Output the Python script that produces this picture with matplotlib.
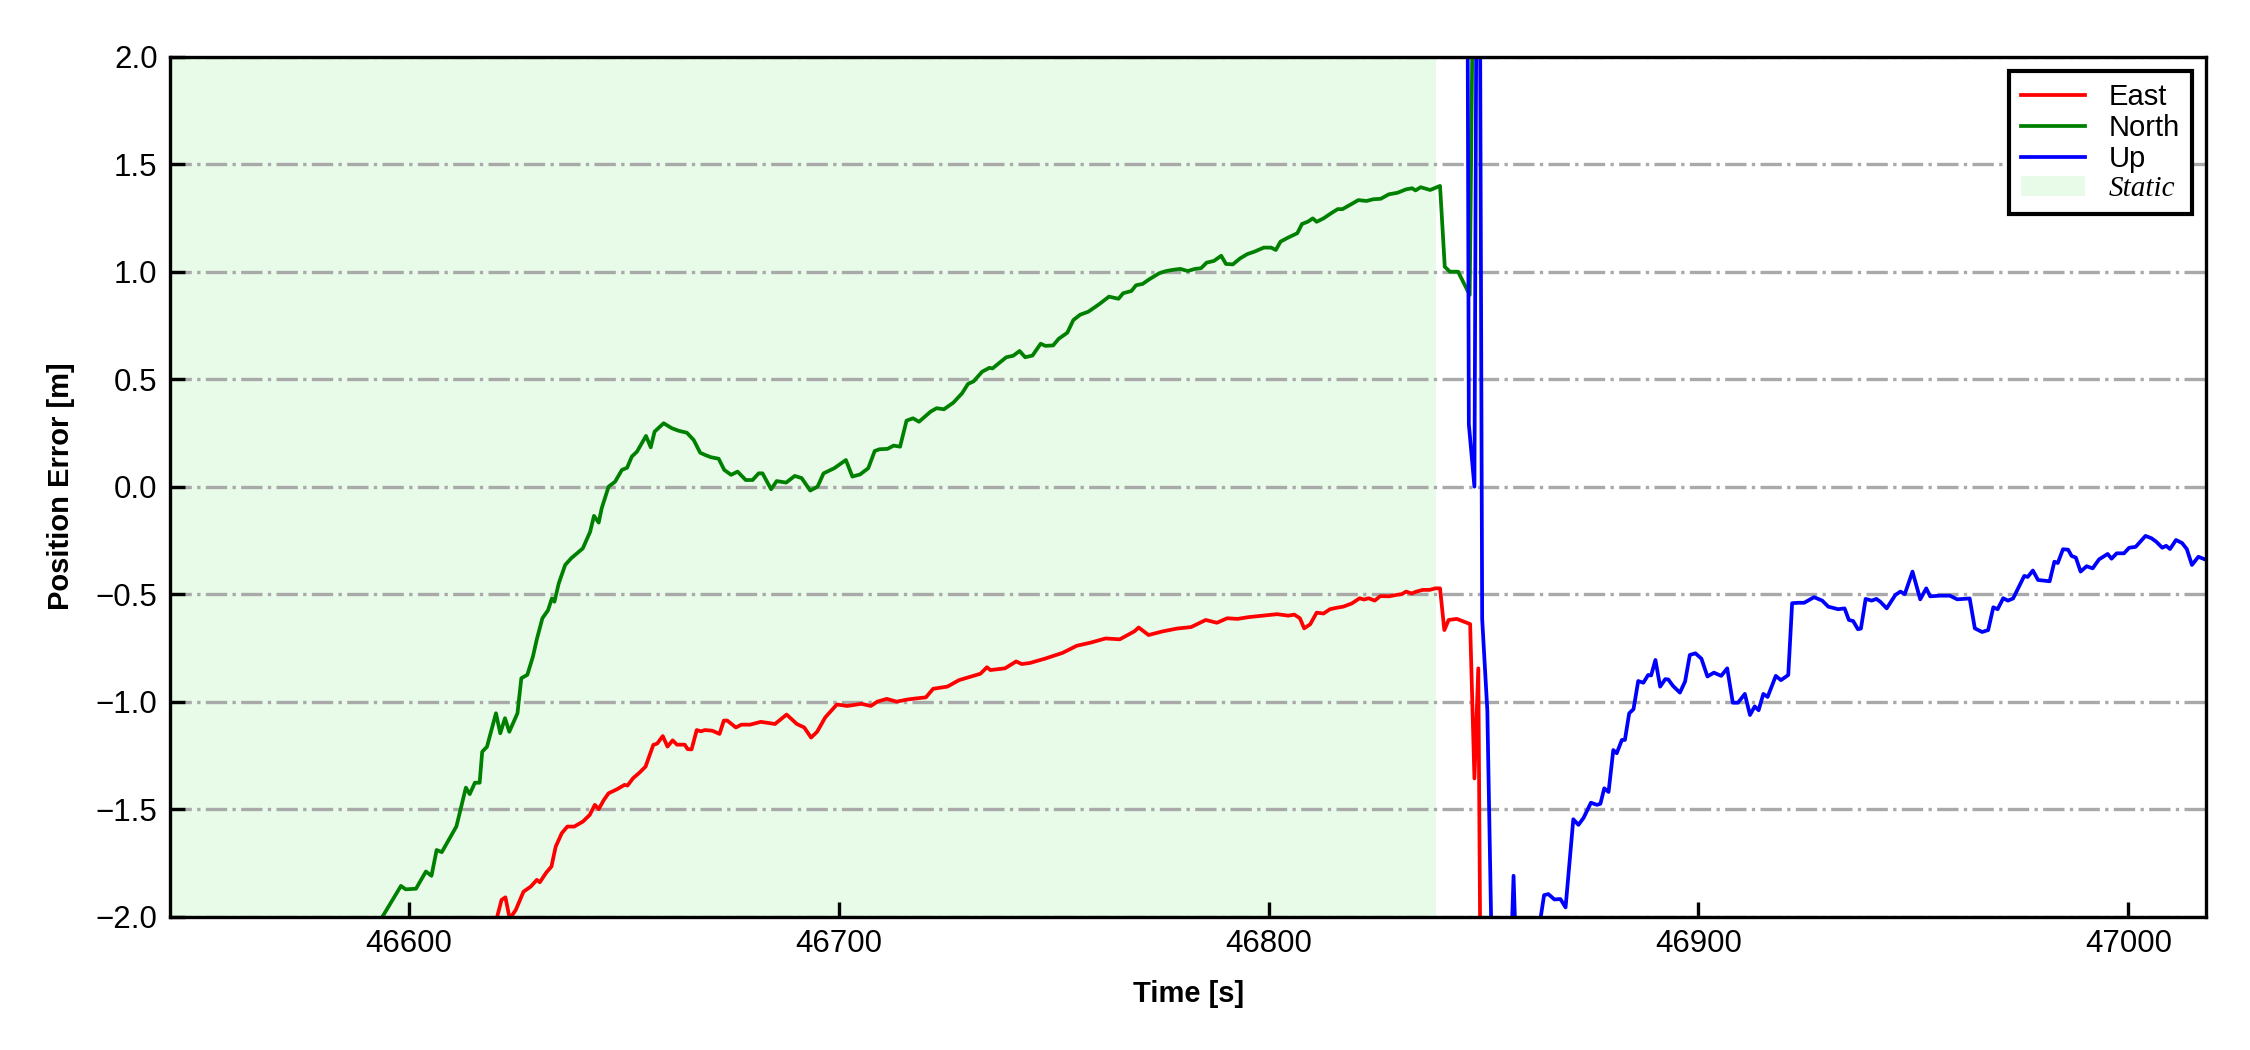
import matplotlib
matplotlib.use("Agg")
import matplotlib.pyplot as plt
from matplotlib.patches import Patch
from matplotlib.lines import Line2D

plt.rcParams['font.family'] = ['Liberation Sans', 'DejaVu Sans']

# ---------------- data ----------------
north_t = [46593.0, 46598.2, 46599.3, 46601.7, 46604.0, 46605.3, 46606.5, 46607.7, 46611.1, 46613.3,
           46614.2, 46615.4, 46616.5, 46617.1, 46618.2, 46620.3, 46621.3, 46622.4, 46623.4, 46625.3,
           46626.2, 46627.6, 46628.9, 46629.8, 46631.1, 46632.4, 46633.3, 46633.9, 46634.9, 46636.4,
           46637.8, 46640.5, 46642.2, 46643.1, 46644.2, 46644.9, 46646.5, 46648.0, 46649.6, 46650.8,
           46651.9, 46653.1, 46655.2, 46656.3, 46657.2, 46659.3, 46661.2, 46662.8, 46664.7, 46666.3,
           46667.8, 46669.0, 46670.3, 46672.1, 46673.4, 46675.0, 46676.5, 46678.4, 46680.0, 46681.4,
           46682.3, 46684.3, 46685.6, 46687.8, 46689.8, 46691.4, 46693.4, 46695.1, 46696.5, 46699.0,
           46701.7, 46703.2, 46705.0, 46706.9, 46708.4, 46709.5, 46711.4, 46712.8, 46714.3, 46715.8,
           46717.3, 46718.7, 46721.4, 46722.8, 46724.5, 46726.7, 46728.7, 46730.1, 46731.4, 46733.4,
           46735.1, 46735.8, 46739.0, 46740.6, 46742.1, 46743.4, 46745.1, 46747.0, 46748.1, 46749.9,
           46751.2, 46753.2, 46754.6, 46756.2, 46758.1, 46760.7, 46762.9, 46765.1, 46766.2, 46768.1,
           46769.2, 46770.7, 46772.3, 46774.6, 46776.2, 46777.9, 46779.5, 46781.2, 46782.9, 46784.3,
           46785.6, 46787.3, 46789.0, 46790.1, 46791.7, 46793.4, 46795.1, 46796.7, 46798.9, 46800.6,
           46801.7, 46802.8, 46804.5, 46806.7, 46807.8, 46809.2, 46810.3, 46811.2, 46812.8, 46814.5,
           46816.1, 46817.2, 46818.9, 46820.9, 46822.8, 46824.4, 46826.1, 46828.0, 46830.0, 46832.0,
           46833.4, 46834.2, 46835.4, 46837.6, 46839.9, 46841.0, 46842.2, 46844.1, 46846.8, 46847.8]
north_v = [-2.03, -1.857, -1.873, -1.87, -1.79, -1.81, -1.69, -1.70, -1.58, -1.40,
           -1.43, -1.377, -1.377, -1.233, -1.21, -1.054, -1.147, -1.077, -1.14, -1.054,
           -0.891, -0.875, -0.79, -0.71, -0.612, -0.575, -0.52, -0.535, -0.45, -0.364,
           -0.333, -0.287, -0.21, -0.136, -0.167, -0.10, 0.0, 0.023, 0.078, 0.088,
           0.14, 0.163, 0.236, 0.183, 0.256, 0.295, 0.272, 0.26, 0.251, 0.217,
           0.158, 0.147, 0.137, 0.13, 0.078, 0.055, 0.07, 0.031, 0.031, 0.062,
           0.062, -0.012, 0.026, 0.019, 0.05, 0.04, -0.018, 0.0, 0.062, 0.086,
           0.124, 0.047, 0.057, 0.086, 0.166, 0.174, 0.176, 0.191, 0.186, 0.307,
           0.318, 0.302, 0.349, 0.365, 0.36, 0.391, 0.434, 0.478, 0.49, 0.535,
           0.553, 0.55, 0.602, 0.609, 0.631, 0.602, 0.61, 0.665, 0.655, 0.657,
           0.688, 0.716, 0.775, 0.80, 0.814, 0.85, 0.884, 0.874, 0.90, 0.91,
           0.937, 0.943, 0.965, 0.993, 1.003, 1.009, 1.013, 1.003, 1.013, 1.016,
           1.042, 1.05, 1.074, 1.036, 1.034, 1.062, 1.082, 1.093, 1.112, 1.112,
           1.101, 1.14, 1.158, 1.179, 1.222, 1.233, 1.248, 1.232, 1.248, 1.271,
           1.291, 1.291, 1.31, 1.333, 1.329, 1.337, 1.339, 1.36, 1.367, 1.383,
           1.388, 1.378, 1.393, 1.38, 1.399, 1.023, 1.0, 1.0, 0.892, 2.8]

east_t = [46619.8, 46621.6, 46622.5, 46623.5, 46624.9, 46626.7, 46628.4, 46629.8, 46630.5, 46632.0,
          46633.2, 46634.2, 46635.6, 46636.9, 46638.5, 46640.5, 46642.1, 46643.3, 46644.2, 46645.4,
          46646.5, 46648.5, 46650.2, 46650.9, 46652.2, 46653.7, 46655.1, 46656.9, 46657.8, 46659.1,
          46660.2, 46661.4, 46662.4, 46664.2, 46664.9, 46665.8, 46667.0, 46668.0, 46668.9, 46670.6,
          46672.3, 46673.3, 46674.1, 46676.1, 46677.4, 46679.4, 46681.9, 46684.0, 46685.2, 46687.9,
          46690.3, 46692.0, 46693.6, 46695.0, 46696.9, 46699.6, 46702.0, 46705.3, 46707.5, 46709.0,
          46711.2, 46713.5, 46716.0, 46718.0, 46720.3, 46722.0, 46725.3, 46728.0, 46731.3, 46733.0,
          46734.5, 46735.3, 46738.7, 46741.3, 46742.6, 46744.5, 46748.0, 46752.1, 46755.4, 46758.7,
          46762.1, 46765.4, 46768.8, 46769.8, 46772.1, 46775.4, 46778.7, 46782.0, 46785.4, 46788.0,
          46790.4, 46792.8, 46795.3, 46798.6, 46802.0, 46804.6, 46806.0, 46807.3, 46808.3, 46809.7,
          46811.2, 46812.8, 46814.3, 46815.9, 46817.4, 46819.4, 46821.2, 46822.2, 46823.3, 46824.7,
          46826.0, 46828.0, 46829.9, 46831.0, 46832.0, 46833.3, 46834.4, 46835.9, 46837.5, 46838.8,
          46839.9, 46840.9, 46841.9, 46843.8, 46846.9, 46847.9, 46848.8, 46849.8]
east_v = [-2.06, -1.922, -1.91, -2.01, -1.969, -1.884, -1.86, -1.829, -1.84, -1.795,
          -1.767, -1.674, -1.612, -1.581, -1.581, -1.558, -1.527, -1.48, -1.5, -1.457,
          -1.426, -1.407, -1.387, -1.39, -1.356, -1.33, -1.302, -1.201, -1.195, -1.16,
          -1.209, -1.18, -1.20, -1.20, -1.221, -1.222, -1.132, -1.138, -1.132, -1.135,
          -1.15, -1.088, -1.088, -1.12, -1.107, -1.107, -1.094, -1.10, -1.104, -1.06,
          -1.104, -1.12, -1.167, -1.14, -1.073, -1.013, -1.02, -1.01, -1.02, -1.00,
          -0.987, -1.00, -0.99, -0.985, -0.98, -0.94, -0.93, -0.90, -0.88, -0.87,
          -0.84, -0.853, -0.845, -0.813, -0.825, -0.82, -0.80, -0.773, -0.74, -0.725,
          -0.706, -0.71, -0.673, -0.655, -0.69, -0.673, -0.66, -0.653, -0.62, -0.633,
          -0.612, -0.615, -0.607, -0.60, -0.593, -0.60, -0.595, -0.612, -0.659, -0.64,
          -0.586, -0.59, -0.57, -0.563, -0.558, -0.543, -0.519, -0.525, -0.519, -0.53,
          -0.509, -0.51, -0.503, -0.50, -0.488, -0.497, -0.488, -0.48, -0.48, -0.473,
          -0.473, -0.667, -0.62, -0.615, -0.639, -1.357, -0.845, -3.7]

up_t = [46845.9, 46846.6, 46847.9, 46848.8, 46849.7, 46850.9, 46852.5, 46854.5, 46856.0, 46857.0,
        46858.0, 46860.0, 46862.2, 46864.1, 46865.1, 46866.5, 46867.9, 46869.1, 46870.9, 46872.1,
        46873.3, 46875.0, 46876.4, 46877.2, 46878.1, 46879.1, 46880.2, 46881.0, 46882.2, 46882.9,
        46883.9, 46884.9, 46886.0, 46887.2, 46888.3, 46889.0, 46890.0, 46891.1, 46892.3, 46893.0,
        46894.1, 46895.7, 46896.9, 46898.0, 46899.3, 46900.7, 46902.1, 46903.6, 46905.3, 46906.7,
        46908.0, 46909.2, 46910.8, 46912.0, 46913.1, 46914.0, 46915.1, 46916.1, 46918.0, 46919.2,
        46920.9, 46921.8, 46923.2, 46924.6, 46926.9, 46928.8, 46930.2, 46932.5, 46934.0, 46935.0,
        46936.0, 46937.1, 46937.8, 46938.9, 46940.3, 46941.4, 46942.3, 46943.8, 46945.8, 46947.0,
        46948.0, 46949.8, 46951.6, 46953.0, 46953.9, 46956.2, 46958.5, 46960.2, 46963.1, 46964.3,
        46966.0, 46967.4, 46968.6, 46969.6, 46970.9, 46972.0, 46973.2, 46975.8, 46976.6, 46977.8,
        46979.0, 46981.7, 46982.8, 46983.6, 46984.8, 46986.0, 46986.8, 46987.8, 46988.9, 46990.3,
        46991.7, 46993.2, 46995.2, 46996.1, 46997.3, 46999.0, 47000.2, 47001.7, 47004.0, 47005.4,
        47006.5, 47007.9, 47008.8, 47009.7, 47011.1, 47012.5, 47013.6, 47014.8, 47016.3, 47017.8,
        47019.0]
up_v = [5.0, 0.29, 0.0, 4.5, -0.615, -1.04, -2.8, -2.7, -2.44, -1.81,
        -2.44, -2.6, -2.15, -1.9, -1.895, -1.92, -1.918, -1.957, -1.547, -1.573,
        -1.54, -1.47, -1.48, -1.475, -1.403, -1.42, -1.225, -1.24, -1.178, -1.178,
        -1.054, -1.035, -0.904, -0.912, -0.876, -0.878, -0.806, -0.93, -0.895, -0.897,
        -0.927, -0.958, -0.906, -0.783, -0.775, -0.80, -0.883, -0.865, -0.88, -0.845,
        -1.005, -1.005, -0.964, -1.062, -1.022, -1.04, -0.964, -0.978, -0.88, -0.90,
        -0.876, -0.542, -0.54, -0.54, -0.514, -0.53, -0.558, -0.57, -0.566, -0.62,
        -0.625, -0.663, -0.66, -0.522, -0.53, -0.522, -0.535, -0.566, -0.504, -0.488,
        -0.50, -0.395, -0.524, -0.473, -0.51, -0.507, -0.507, -0.524, -0.52, -0.659,
        -0.676, -0.667, -0.561, -0.57, -0.519, -0.53, -0.52, -0.415, -0.42, -0.39,
        -0.434, -0.44, -0.349, -0.355, -0.291, -0.293, -0.322, -0.33, -0.395, -0.37,
        -0.38, -0.338, -0.313, -0.335, -0.31, -0.31, -0.284, -0.28, -0.229, -0.24,
        -0.256, -0.284, -0.275, -0.29, -0.248, -0.262, -0.29, -0.364, -0.326, -0.338,
        -0.34]

static_start = 46544.5
static_end = 46839.0
x_range = (46544.5, 47018.1)
y_range = (-2.0, 2.0)
x_ticks = [46600, 46700, 46800, 46900, 47000]
y_ticks = [-2.0, -1.5, -1.0, -0.5, 0.0, 0.5, 1.0, 1.5, 2.0]

# ---------------- figure ----------------
fig = plt.figure(figsize=(7.5, 3.5), dpi=300)
ax = fig.add_axes([0.0756, 0.1270, 0.9049, 0.8190])

ax.axvspan(static_start, static_end, color='lightgreen', alpha=0.2, lw=0)
ax.plot(east_t, east_v, color='red', lw=0.9)
ax.plot(north_t, north_v, color='green', lw=0.9)
ax.plot(up_t, up_v, color='blue', lw=0.9)

ax.set_xlim(*x_range)
ax.set_ylim(*y_range)
ax.set_xticks(x_ticks)
ax.set_yticks(y_ticks)
ax.yaxis.grid(True, linestyle='-.', color='darkgray', linewidth=0.8)

ax.tick_params(direction='in', length=3.6, width=0.8, labelsize=7.5,
               top=False, right=False, pad=3)
for s in ax.spines.values():
    s.set_linewidth(0.8)

ax.set_xlabel('Time [s]', fontsize=7, fontweight='bold', labelpad=5)
ax.set_ylabel('Position Error [m]', fontsize=7, fontweight='bold', labelpad=5)

handles = [Line2D([], [], color='red', lw=0.9),
           Line2D([], [], color='green', lw=0.9),
           Line2D([], [], color='blue', lw=0.9),
           Patch(facecolor='lightgreen', alpha=0.2, lw=0)]
labels = ['East', 'North', 'Up', 'Static']
leg = ax.legend(handles, labels, loc='upper right', fontsize=7, fancybox=False,
                edgecolor='black', framealpha=1, labelspacing=0.1, handlelength=2.2,
                handletextpad=0.8, borderpad=0.4, borderaxespad=0.5)
leg.get_frame().set_linewidth(1.0)
st = leg.get_texts()[3]
st.set_fontfamily(['Liberation Serif', 'DejaVu Serif'])
st.set_fontstyle('italic')

fig.savefig('out.png', dpi=300)
